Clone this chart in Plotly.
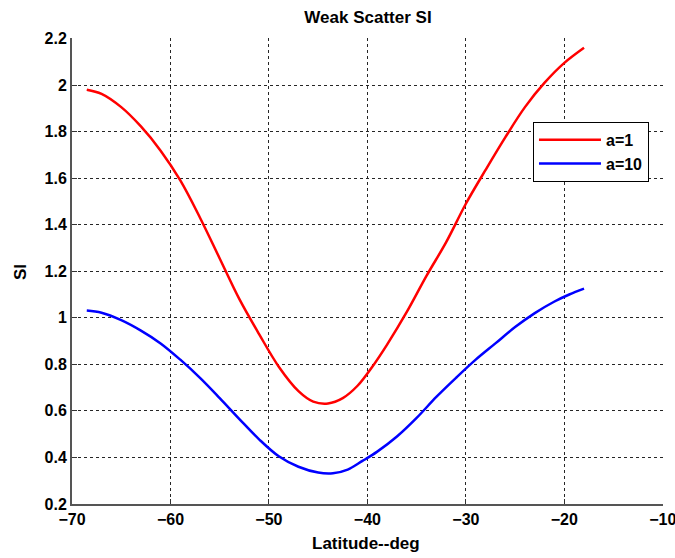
import plotly.graph_objects as go

red_x = [-68.5, -67, -65, -63, -61, -59, -57, -55, -53, -51, -49, -47, -45.5, -44,
         -42.5, -41, -39.5, -38, -36, -34, -32, -30, -28, -26, -24, -22, -20, -18]
red_y = [1.98, 1.962, 1.905, 1.822, 1.718, 1.59, 1.43, 1.255, 1.08, 0.93, 0.79,
         0.685, 0.64, 0.632, 0.655, 0.708, 0.79, 0.885, 1.025, 1.18, 1.325, 1.49,
         1.635, 1.775, 1.905, 2.01, 2.095, 2.16]

blue_x = [-68.5, -67, -65, -63, -61, -59, -57, -55, -53, -51, -49, -47, -45, -43.5,
          -42, -40.5, -39, -37, -35, -33, -31, -29, -27, -25, -23, -21, -19.5, -18]
blue_y = [1.031, 1.022, 0.99, 0.945, 0.89, 0.82, 0.742, 0.655, 0.565, 0.478, 0.405,
          0.36, 0.335, 0.332, 0.348, 0.385, 0.425, 0.49, 0.57, 0.66, 0.742, 0.82,
          0.89, 0.96, 1.02, 1.07, 1.1, 1.125]

x_ticks = [-70, -60, -50, -40, -30, -20, -10]
y_ticks = [0.2, 0.4, 0.6, 0.8, 1, 1.2, 1.4, 1.6, 1.8, 2, 2.2]

FONT = "Liberation Sans, Arial, sans-serif"
W, H = 675, 558
ML, MR, MT, MB = 72, 12, 38, 54

fig = go.Figure()
fig.add_trace(go.Scatter(x=red_x, y=red_y, mode="lines", name="a=1",
                         line=dict(color="#ff0000", width=2.5, shape="spline", smoothing=1.0)))
fig.add_trace(go.Scatter(x=blue_x, y=blue_y, mode="lines", name="a=10",
                         line=dict(color="#0000ff", width=2.5, shape="spline", smoothing=1.0)))

axis_common = dict(
    showgrid=True, gridcolor="#262626", griddash="3px,3px", gridwidth=1,
    showline=True, linecolor="#555555", linewidth=2, mirror=False,
    ticks="inside", ticklen=5, tickcolor="#333333",
    zeroline=False, automargin=False, ticklabeloverflow="allow",
    tickfont=dict(family=FONT, size=16, color="#000000", weight="bold"),
)

fig.update_layout(
    width=W, height=H,
    margin=dict(l=ML, r=MR, t=MT, b=MB),
    paper_bgcolor="white", plot_bgcolor="white",
    title=dict(text="Weak Scatter SI", x=368 / W, xanchor="center",
               y=1 - 17 / H, yanchor="middle",
               font=dict(family=FONT, size=17, color="#000000", weight="bold")),
    xaxis=dict(range=[-70, -9.98], tickvals=x_ticks, **axis_common),
    yaxis=dict(range=[0.2, 2.202], tickvals=y_ticks,
               ticktext=[f"{v:g}" for v in y_ticks], **axis_common),
    legend=dict(x=0.78, y=0.82, xanchor="left", yanchor="top",
                bgcolor="white", bordercolor="#000000", borderwidth=1,
                font=dict(family=FONT, size=16, color="#000000", weight="bold"),
                itemwidth=62, tracegroupgap=2),
    showlegend=True,
    annotations=[
        dict(text="Latitude--deg", xref="paper", yref="paper",
             x=(366 - ML) / (W - ML - MR), y=-(543 - (H - MB)) / (H - MT - MB),
             xanchor="center", yanchor="middle", showarrow=False,
             font=dict(family=FONT, size=17, color="#000000", weight="bold")),
        dict(text="SI", xref="paper", yref="paper",
             x=-(ML - 20) / (W - ML - MR), y=(H - MB - 272) / (H - MT - MB),
             xanchor="center", yanchor="middle", showarrow=False, textangle=-90,
             font=dict(family=FONT, size=17, color="#000000", weight="bold")),
    ],
)

fig.write_html("out.html")
